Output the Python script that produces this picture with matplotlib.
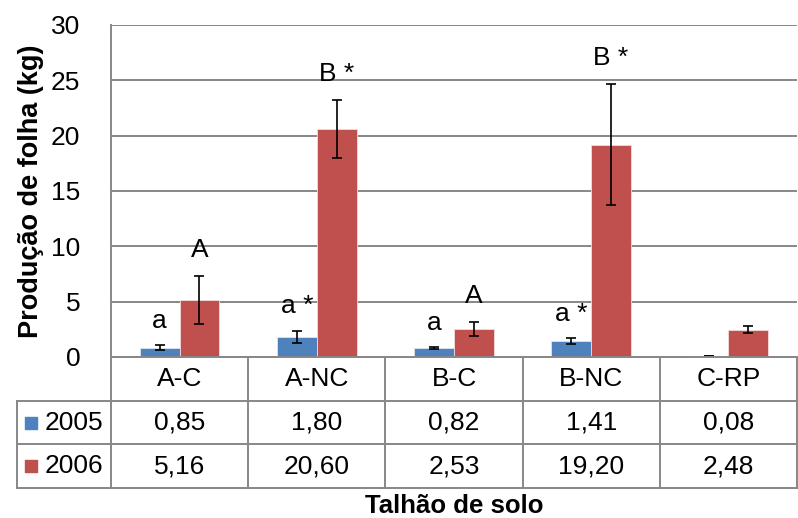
import matplotlib.pyplot as plt
import numpy as np

plt.rcParams['font.family'] = ['Liberation Sans', 'DejaVu Sans']

categorias = ['A-C', 'A-NC', 'B-C', 'B-NC', 'C-RP']
anos = ['2005', '2006']
prod_2005 = [0.85, 1.80, 0.82, 1.41, 0.08]
prod_2006 = [5.16, 20.60, 2.53, 19.20, 2.48]
erro_2005 = [0.22, 0.55, 0.08, 0.27, 0.0]
erro_2006 = [2.15, 2.6, 0.65, 5.45, 0.33]
letras_2005 = ['a', 'a *', 'a', 'a *', '']
letras_2006 = ['A', 'B *', 'A', 'B *', '']
yticks = [0, 5, 10, 15, 20, 25, 30]

azul = '#4F81BD'
vermelho = '#C0504D'
cinza = '#878787'
fs = 19

W, H = 798, 518
fig = plt.figure(figsize=(W / 100, H / 100), dpi=100)

# area do grafico (em pixels convertidos)
x0, x1 = 111, 797
y_top, y_zero, y_tab = 25, 357, 488
ax = fig.add_axes([x0 / W, (H - y_zero) / H, (x1 - x0) / W, (y_zero - y_top) / H])

x = np.arange(len(categorias))
larg = 0.29
ax.bar(x - larg / 2, prod_2005, larg, color=azul, edgecolor='#dde6f2', linewidth=0.6, zorder=3)
ax.bar(x + larg / 2, prod_2006, larg, color=vermelho, edgecolor='#f2dcdb', linewidth=0.6, zorder=3)
ax.errorbar(x - larg / 2, prod_2005, yerr=erro_2005, fmt='none', ecolor='black',
            elinewidth=1.2, capsize=3.5, capthick=1.2, zorder=4)
ax.errorbar(x + larg / 2, prod_2006, yerr=erro_2006, fmt='none', ecolor='black',
            elinewidth=1.2, capsize=3.5, capthick=1.2, zorder=4)

for i in range(len(categorias)):
    if letras_2005[i]:
        ax.annotate(letras_2005[i], (x[i] - larg / 2, prod_2005[i] + erro_2005[i]),
                    xytext=(0, 9), textcoords='offset points', ha='center', va='bottom', fontsize=fs)
    if letras_2006[i]:
        ax.annotate(letras_2006[i], (x[i] + larg / 2, prod_2006[i] + erro_2006[i]),
                    xytext=(0, 10), textcoords='offset points', ha='center', va='bottom', fontsize=fs)

ax.set_xlim(-0.5, len(categorias) - 0.5)
ax.set_ylim(0, 30)
ax.set_yticks(yticks)
ax.set_xticks([])
ax.tick_params(axis='y', length=0, pad=22, labelsize=fs)
ax.yaxis.grid(True, color=cinza, linewidth=1.4, zorder=0)
for s in ['top', 'right', 'bottom']:
    ax.spines[s].set_visible(False)
ax.spines['left'].set_color(cinza)
ax.spines['left'].set_linewidth(1.4)
ax.set_ylabel('Produção de folha (kg)', fontsize=19.5, fontweight='bold', labelpad=5)

# tabela de dados abaixo do grafico
axt = fig.add_axes([x0 / W, (H - y_tab) / H, (x1 - x0) / W, (y_tab - y_zero) / H])
axt.set_xlim(-0.5, len(categorias) - 0.5)
axt.set_ylim(3, 0)
axt.axis('off')
esq = -0.5 - (x0 - 17) / ((x1 - x0) / len(categorias))
kw = dict(color=cinza, linewidth=1.4, clip_on=False)
axt.plot([-0.5, len(categorias) - 0.5], [0, 0], **kw)
for r in [1, 2, 3]:
    axt.plot([esq, len(categorias) - 0.5], [r, r], **kw)
for k in range(len(categorias) + 1):
    axt.plot([k - 0.5, k - 0.5], [0, 3], **kw)
axt.plot([esq, esq], [1, 3], **kw)

for i, c in enumerate(categorias):
    axt.text(i, 0.5, c, ha='center', va='center', fontsize=fs)
    axt.text(i, 1.5, f'{prod_2005[i]:.2f}'.replace('.', ','), ha='center', va='center', fontsize=fs)
    axt.text(i, 2.5, f'{prod_2006[i]:.2f}'.replace('.', ','), ha='center', va='center', fontsize=fs)

for r, (ano, cor) in enumerate(zip(anos, [azul, vermelho])):
    axt.scatter([esq + 0.1], [1.5 + r], marker='s', s=85, color=cor, clip_on=False)
    axt.text(esq + 0.2, 1.5 + r, ano, ha='left', va='center', fontsize=fs)

fig.text((x0 + x1) / 2 / W, 1 - 506 / H, 'Talhão de solo', ha='center', va='center',
         fontsize=18.5, fontweight='bold')

fig.savefig('out.png', dpi=100)
